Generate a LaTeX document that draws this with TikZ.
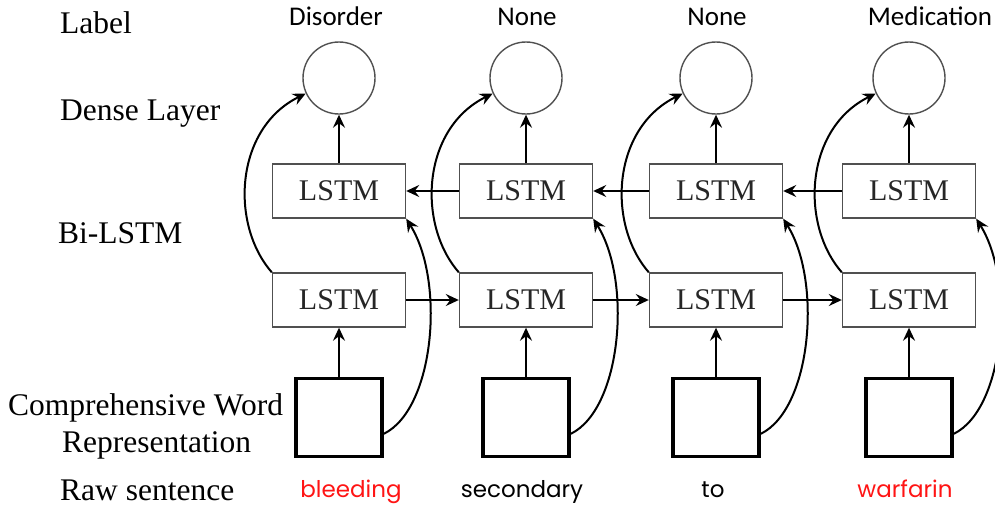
\documentclass[tikz,border=0pt]{standalone}
\usepackage{fontspec}
\setmainfont{Liberation Serif}
\newfontfamily\labfont{Carlito}
\newfontfamily\wordfont{Poppins}
\usetikzlibrary{arrows.meta}
\definecolor{boxgray}{RGB}{80,80,80}
\definecolor{wordred}{RGB}{255,20,20}
\tikzset{
  arr/.style={line width=2pt, black, -{Stealth[length=13pt,width=12pt,inset=4.5pt]}},
  lstm/.style={draw=boxgray, line width=1.4pt, minimum width=133pt, minimum height=54pt, inner sep=0pt,
    font=\fontsize{30}{33}\selectfont, text=black!85},
  circ/.style={draw=boxgray, line width=1.4pt, circle, minimum size=72pt, inner sep=0pt},
  sq/.style={draw=black, line width=3.6pt, minimum width=86pt, minimum height=78pt, inner sep=0pt},
  sidelab/.style={anchor=base west, inner sep=0pt, font=\fontsize{31.5}{36}\selectfont},
  toplab/.style={anchor=base, inner sep=0pt, font=\labfont\fontsize{27}{30}\selectfont},
  word/.style={anchor=base, inner sep=0pt, font=\wordfont\fontsize{23}{28}\selectfont}
}
\begin{document}
\begin{tikzpicture}[x=1pt,y=-1pt]
\useasboundingbox (0,0) rectangle (995,506);
% side labels
\node[sidelab] (tLabel) at (60,33) {Label};
\node[sidelab] (tDense) at (60,120) {Dense Layer};
\node[sidelab] (tBi) at (58,243) {Bi-LSTM};
\node[sidelab] (tComp) at (8,415) {Comprehensive Word};
\node[sidelab] (tRep) at (62,452) {Representation};
\node[sidelab] (tRaw) at (60,500) {Raw sentence};
% columns
\foreach \i/\x in {1/339,2/526,3/716,4/909}{
  \node[circ] (c\i) at (\x,78) {};
  \node[lstm] (u\i) at (\x,191) {LSTM};
  \node[lstm] (l\i) at (\x,300) {LSTM};
  \node[sq] (s\i) at (\x,417.5) {};
  \draw[arr] (u\i) -- (c\i);
  \draw[arr] (s\i) -- (l\i);
  \draw[arr] (l\i.north west) .. controls +(-42,-48) and +(-71,35) .. (c\i.205);
  \draw[arr] (s\i.-20) .. controls +(51,-25) and +(39,62) .. (u\i.south east);
}
\draw[arr] (l1) -- (l2);
\draw[arr] (l2) -- (l3);
\draw[arr] (l3) -- (l4);
\draw[arr] (u2) -- (u1);
\draw[arr] (u3) -- (u2);
\draw[arr] (u4) -- (u3);
% top labels
\node[toplab] (y1) at (336,25) {Disorder};
\node[toplab] (y2) at (527,25) {None};
\node[toplab] (y3) at (717,25) {None};
\node[toplab] (y4) at (930,25) {Medication};
% words
\node[word, text=wordred] (w1) at (351,497) {bleeding};
\node[word] (w2) at (522,497) {secondary};
\node[word] (w3) at (713,497) {to};
\node[word, text=wordred] (w4) at (905,497) {warfarin};
\end{tikzpicture}
\end{document}
